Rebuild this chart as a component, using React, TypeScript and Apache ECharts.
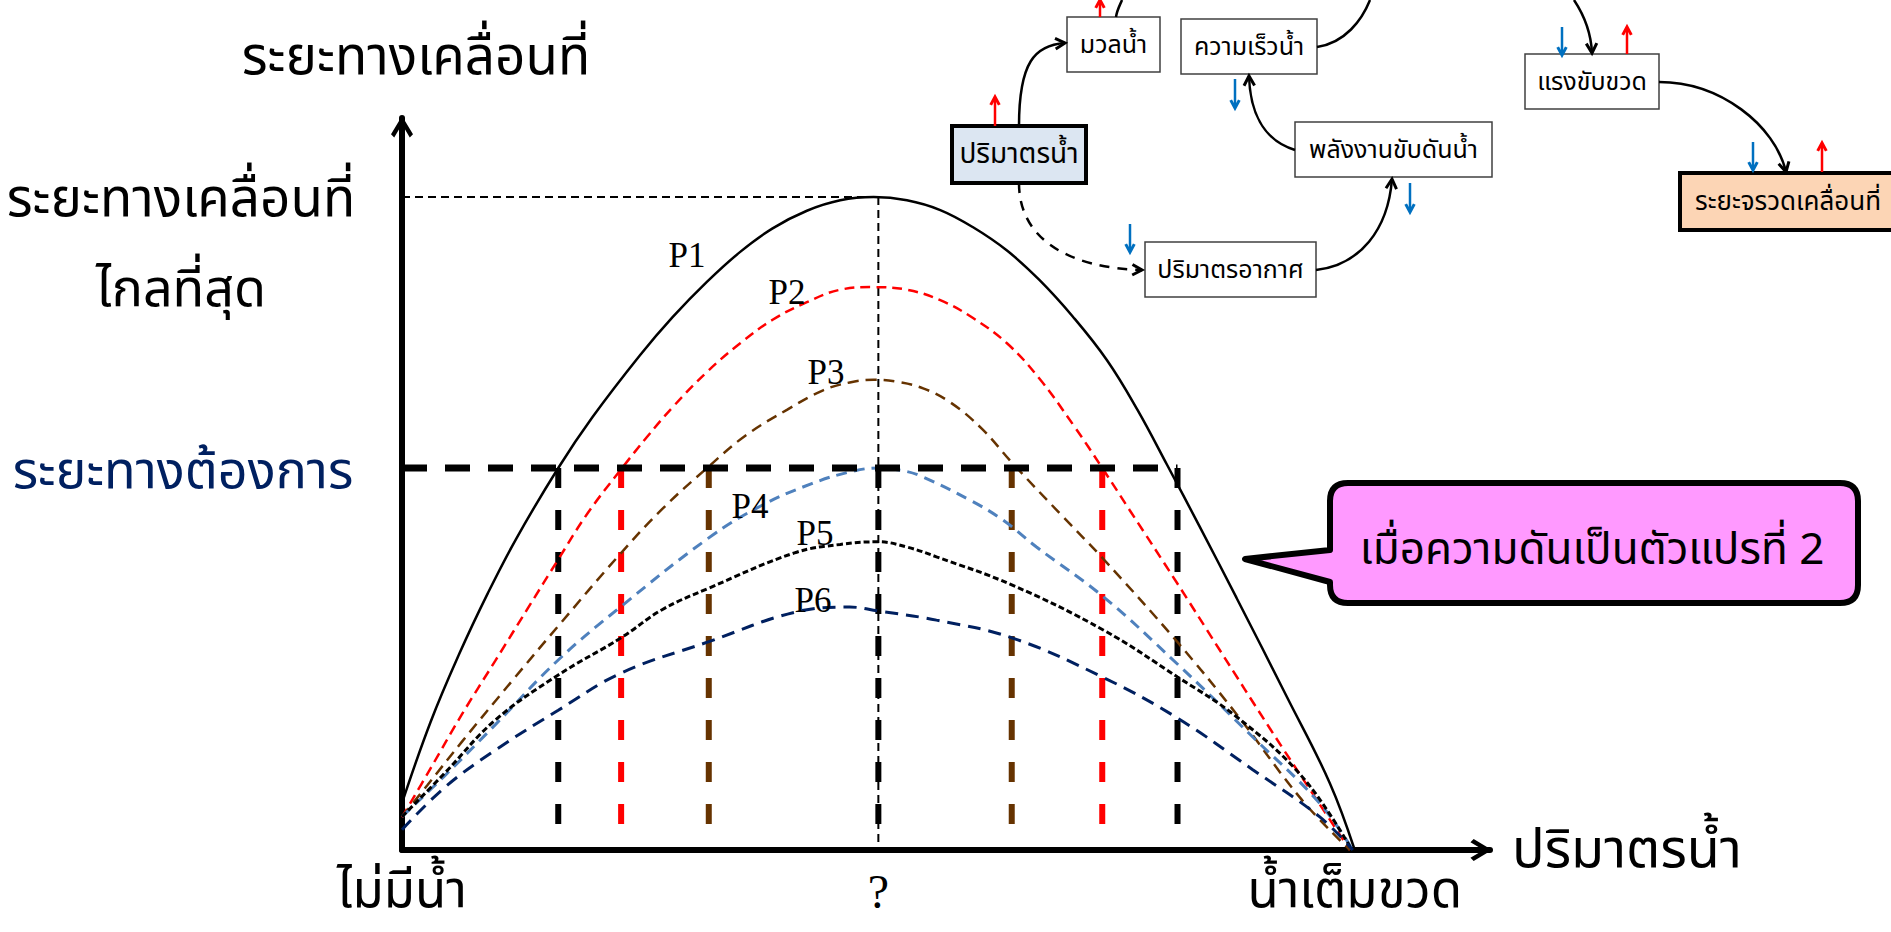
import React, { useEffect, useRef } from 'react';
import * as echarts from 'echarts';

// ---------- data (x: % of bottle filled with water, y: % of maximum distance) ----------
const P1 = [[0,7.2],[3,19.6],[6,30.0],[9,39.3],[12,47.7],[16.4,58.5],[20,66.3],[25,75.8],[28.4,81.6],[32,87.0],[35.5,91.6],[38.9,95.2],[42.5,97.9],[46,99.5],[49.5,100],[53,99.5],[56.5,98.0],[59.9,95.4],[63.5,91.8],[66.9,87.3],[70.4,81.7],[74,75.0],[77.2,67.4],[80.3,59.0],[83.7,49.6],[87.6,38.6],[92.9,23.4],[97.4,10.2],[100,0]];
const P2 = [[0,5.0],[3,12.5],[6.3,20.8],[9.8,29.0],[13.2,37.0],[16.4,44.5],[19.5,51.6],[23.1,58.5],[25.8,63.4],[28.4,67.8],[32,73.2],[35.5,77.6],[38.9,81.2],[42.5,83.9],[46,85.8],[49.4,86.2],[53,85.8],[56.5,84.2],[59.9,81.5],[63.5,77.6],[66.9,72.2],[70.6,64.8],[73.5,58.5],[76.4,52.0],[81.3,41.0],[85.8,30.7],[91.1,18.6],[95.6,8.6],[99.5,0]];
const P3 = [[0,5.1],[2.7,10.0],[6.3,16.6],[11.5,25.8],[16.4,34.3],[22.7,45.0],[27.3,52.2],[32.1,58.6],[36,63.4],[40.4,67.4],[44.2,70.4],[47,71.6],[49.5,72],[52,71.7],[54.7,70.7],[57.5,68.6],[60.8,64.6],[64.1,59.2],[69.4,51.0],[73.6,44.6],[81.3,32.0],[87.6,20.8],[94.5,7.6],[99.5,0]];
const P4 = [[0,5.1],[4.5,11.4],[9.8,19.2],[16.4,29.1],[23,37.3],[32.2,47.8],[37.8,52.8],[43,56.1],[47,57.9],[50,58.5],[52.5,58.1],[54.4,57.3],[59.6,53.6],[63.1,50.5],[66.6,46.4],[73.6,38.8],[81.3,28.6],[89.3,17.3],[96.3,7.2],[99.8,0]];
const P5 = [[0,5.1],[4.5,11.8],[9.8,19.9],[16.4,26.8],[23,32.5],[27.3,36.8],[32.2,40.1],[41.2,45.5],[46,46.8],[50,47.2],[53,46.4],[56.1,44.9],[64,40.6],[73.6,33.7],[81.4,26.5],[87.6,20.4],[94.5,11.2],[99.5,0.5]];
const P6 = [[0,3.1],[4.5,9.6],[9.8,15.3],[16.4,21.4],[23,27.1],[32.2,31.9],[41.2,36.4],[47,37.2],[50,36.6],[56.1,35.2],[64,32.5],[73.5,26.5],[81.4,20.2],[89.3,12.3],[96.3,5.1],[99.8,0]];

const MAX_DIST = 100;          // ระยะทางเคลื่อนที่ไกลที่สุด
const TARGET_DIST = 58.5;      // ระยะทางต้องการ
const PEAK_WATER = 50;         // ?
// water volumes where each curve meets the wanted distance
const CROSS_X = [16.4, 23.0, 32.2, 50, 64.0, 73.5, 81.4];
const CROSS_COLORS = ['#000000', '#FF0000', '#663300', '#000000', '#663300', '#FF0000', '#000000'];

const X_TICKS = [0, 50, 100];
const X_TICK_LABELS = ['ไม่มีน้ำ', '{q|?}', 'น้ำเต็มขวด'];

const CURVE_NAMES = ['P1', 'P2', 'P3', 'P4', 'P5', 'P6'];
const CURVE_COLORS = ['#000000', '#FF0000', '#663300', '#4F81BD', '#000000', '#002060'];

const TH = "'Noto Sans Thai','Noto Serif Thai','Loma','Garuda','Kinnari','Norasi','TlwgTypo','Liberation Serif',serif";
const SERIF = "'Liberation Serif','DejaVu Serif',serif";

// ---------- layout ----------
const GRID = { left: 402, top: 118, width: 1088, height: 732 };
const X_MAX = 114.2;
const Y_MAX = 112.1;
const ARROW = 'path://M12,0 L24,20 L20.5,23.5 L15,14.3 L15,24 L9,24 L9,14.3 L3.5,23.5 L0,20 Z';

const LABEL_POS = [[687, 255], [787, 292], [826, 372], [750, 506], [815, 533], [813, 600]];

const BOXES = [
  { t: 'มวลน้ำ', x: 1067, y: 17, w: 93, h: 55, fs: 25 },
  { t: 'ความเร็วน้ำ', x: 1181, y: 19, w: 136, h: 55, fs: 25 },
  { t: 'ปริมาตรน้ำ', x: 952, y: 126, w: 134, h: 57, fill: '#DCE6F2', thick: true, fs: 28 },
  { t: 'พลังงานขับดันน้ำ', x: 1295, y: 122, w: 197, h: 55, fs: 25 },
  { t: 'ปริมาตรอากาศ', x: 1145, y: 242, w: 171, h: 55, fs: 25 },
  { t: 'แรงขับขวด', x: 1525, y: 54, w: 134, h: 55, fs: 25 },
  { t: 'ระยะจรวดเคลื่อนที่', x: 1680, y: 173, w: 216, h: 57, fill: '#FCD5B5', thick: true, fs: 26 },
];

const CALLOUT_D = 'M1348,483 L1840,483 Q1858,483 1858,501 L1858,585 Q1858,603 1840,603 L1348,603 Q1330,603 1330,585 L1330,582 L1245,559 L1330,550 L1330,501 Q1330,483 1348,483 Z';

function head(tx: number, ty: number, fx: number, fy: number, color = '#000', len = 11) {
  const a = Math.atan2(ty - fy, tx - fx);
  const p1 = [tx - len * Math.cos(a - 0.5), ty - len * Math.sin(a - 0.5)];
  const p2 = [tx - len * Math.cos(a + 0.5), ty - len * Math.sin(a + 0.5)];
  return { type: 'polyline', shape: { points: [p1, [tx, ty], p2] }, style: { stroke: color, lineWidth: 3, fill: null, lineJoin: 'miter' }, z: 20 };
}

function vArrow(x: number, yTail: number, yHead: number, color: string) {
  return [
    { type: 'line', shape: { x1: x, y1: yTail, x2: x, y2: yHead + (yHead < yTail ? 2 : -2) }, style: { stroke: color, lineWidth: 2.5 }, z: 20 },
    head(x, yHead, x, yTail, color, 9),
  ];
}

function curve(x1: number, y1: number, c1x: number, c1y: number, c2x: number, c2y: number, x2: number, y2: number, dash?: number[], arrow = true) {
  const els: any[] = [{
    type: 'bezierCurve',
    shape: { x1, y1, cpx1: c1x, cpy1: c1y, cpx2: c2x, cpy2: c2y, x2, y2 },
    style: { stroke: '#000', lineWidth: 2.5, fill: null, lineDash: dash || null },
    z: 20,
  }];
  if (arrow) els.push(head(x2, y2, c2x, c2y));
  return els;
}

export default function App() {
  const ref = useRef<HTMLDivElement>(null);
  useEffect(() => {
    if (!ref.current) return;
    echarts.graphic.registerShape('callout', echarts.graphic.extendPath(CALLOUT_D, {}));
    const chart = echarts.init(ref.current, null, { renderer: 'svg' });

    const dashes: any[] = [[0, 0], [10, 6], [11, 7], [11, 7], [6, 3], [13, 8]];
    const widths = [2.5, 2.5, 2.5, 3, 3, 3];
    const curves = [P1, P2, P3, P4, P5, P6].map((d, i) => ({
      name: CURVE_NAMES[i], type: 'line', data: d, smooth: 0.4, showSymbol: false, silent: true, z: 5,
      lineStyle: { color: CURVE_COLORS[i], width: widths[i], type: i === 0 ? 'solid' : dashes[i] },
    }));

    const refLines: any[] = [
      { type: 'line', data: [[0, MAX_DIST], [PEAK_WATER, MAX_DIST]], showSymbol: false, silent: true, z: 3,
        lineStyle: { color: '#000', width: 2, type: [8, 5] } },
      { type: 'line', data: [[PEAK_WATER, MAX_DIST], [PEAK_WATER, 0]], showSymbol: false, silent: true, z: 3,
        lineStyle: { color: '#000', width: 2, type: [8, 5] } },
      { type: 'line', data: [[0, TARGET_DIST], [CROSS_X[CROSS_X.length - 1], TARGET_DIST]], showSymbol: false, silent: true, z: 6,
        lineStyle: { color: '#000', width: 7, type: [25, 18] } },
      ...CROSS_X.map((x, i) => ({
        type: 'line', data: [[x, TARGET_DIST], [x, 0.8]], showSymbol: false, silent: true, z: 4,
        lineStyle: { color: CROSS_COLORS[i], width: 6, type: [20, 22] },
      })),
    ];

    const graphics: any[] = [];
    // left labels
    graphics.push({ type: 'text', x: 181, y: 200, style: { text: 'ระยะทางเคลื่อนที่', fontSize: 53, fontFamily: TH, fill: '#000', align: 'center', verticalAlign: 'middle' } });
    graphics.push({ type: 'text', x: 181, y: 290, style: { text: 'ไกลที่สุด', fontSize: 52, fontFamily: TH, fill: '#000', align: 'center', verticalAlign: 'middle' } });
    graphics.push({ type: 'text', x: 183, y: 472, style: { text: 'ระยะทางต้องการ', fontSize: 52, fontFamily: TH, fill: '#002060', align: 'center', verticalAlign: 'middle' } });
    // curve labels
    CURVE_NAMES.forEach((n, i) => graphics.push({ type: 'text', x: LABEL_POS[i][0], y: LABEL_POS[i][1], z: 30,
      style: { text: n, fontSize: 35, fontFamily: SERIF, fill: '#000', align: 'center', verticalAlign: 'middle' } }));
    // callout
    graphics.push({ type: 'callout', x: 0, y: 0, z: 25, style: { fill: '#FF99FF', stroke: '#000', lineWidth: 6, lineJoin: 'round' } });
    graphics.push({ type: 'text', x: 1592, y: 550, z: 26, style: { text: 'เมื่อความดันเป็นตัวแปรที่ 2', fontSize: 44, fontFamily: TH, fill: '#000', align: 'center', verticalAlign: 'middle' } });
    // flowchart boxes
    BOXES.forEach((b) => {
      graphics.push({ type: 'rect', z: 19, shape: { x: b.x, y: b.y, width: b.w, height: b.h },
        style: { fill: b.fill || '#FFFFFF', stroke: b.thick ? '#000' : '#404040', lineWidth: b.thick ? 4 : 1.5 } });
      graphics.push({ type: 'text', z: 21, x: b.x + b.w / 2, y: b.y + b.h / 2,
        style: { text: b.t, fontSize: b.fs, fontFamily: TH, fill: '#000', align: 'center', verticalAlign: 'middle' } });
    });
    // flowchart connectors
    graphics.push(...curve(1019, 126, 1019, 62, 1035, 45, 1065, 43));
    graphics.push(...curve(1116, 17, 1117, 10, 1120, 5, 1122, 0, undefined, false));
    graphics.push(...curve(1317, 47, 1345, 43, 1362, 20, 1370, 0, undefined, false));
    graphics.push(...curve(1295, 150, 1262, 140, 1250, 110, 1249, 76));
    graphics.push(...curve(1019, 183, 1019, 240, 1070, 268, 1142, 270, [10, 8]));
    graphics.push(...curve(1316, 270, 1360, 265, 1388, 230, 1392, 179));
    graphics.push(...curve(1574, 0, 1584, 15, 1591, 32, 1592, 53));
    graphics.push(...curve(1659, 82, 1720, 82, 1775, 125, 1786, 172));
    // up / down indicators
    graphics.push(...vArrow(995, 126, 97, '#FF0000'));
    graphics.push(...vArrow(1100, 17, 0, '#FF0000'));
    graphics.push(...vArrow(1235, 79, 108, '#0070C0'));
    graphics.push(...vArrow(1130, 224, 252, '#0070C0'));
    graphics.push(...vArrow(1410, 183, 212, '#0070C0'));
    graphics.push(...vArrow(1562, 27, 55, '#0070C0'));
    graphics.push(...vArrow(1627, 54, 27, '#FF0000'));
    graphics.push(...vArrow(1753, 142, 170, '#0070C0'));
    graphics.push(...vArrow(1822, 172, 143, '#FF0000'));

    chart.setOption({
      animation: false,
      grid: GRID,
      xAxis: {
        type: 'value', min: 0, max: X_MAX,
        name: 'ปริมาตรน้ำ', nameLocation: 'end', nameGap: 22,
        nameTextStyle: { fontSize: 54, fontFamily: TH, color: '#000', verticalAlign: 'middle', padding: [6, 0, 0, 0] },
        axisLine: { show: true, onZero: false, lineStyle: { color: '#000', width: 6 }, symbol: ['none', ARROW], symbolSize: [22, 24], symbolOffset: [0, -9] },
        axisTick: { show: false }, splitLine: { show: false },
        axisLabel: {
          customValues: X_TICKS, margin: 14, fontSize: 51, lineHeight: 54, fontFamily: TH, color: '#000',
          formatter: (v: number) => X_TICK_LABELS[X_TICKS.indexOf(v)] ?? '',
          rich: { q: { fontSize: 48, lineHeight: 54, fontFamily: SERIF, color: '#000' } },
        },
      },
      yAxis: {
        type: 'value', min: 0, max: Y_MAX,
        name: 'ระยะทางเคลื่อนที่', nameLocation: 'end', nameGap: 34,
        nameTextStyle: { fontSize: 53, fontFamily: TH, color: '#000', padding: [0, 0, 0, 28] },
        axisLine: { show: true, onZero: false, lineStyle: { color: '#000', width: 6 }, symbol: ['none', ARROW], symbolSize: [22, 24], symbolOffset: [0, -9] },
        axisTick: { show: false }, splitLine: { show: false }, axisLabel: { show: false },
      },
      series: [...refLines, ...curves],
      graphic: graphics,
    });
    return () => chart.dispose();
  }, []);
  return <div ref={ref} style={{ position: 'absolute', left: 0, top: 0, width: '1891px', height: '932px', background: '#fff' }} />;
}
